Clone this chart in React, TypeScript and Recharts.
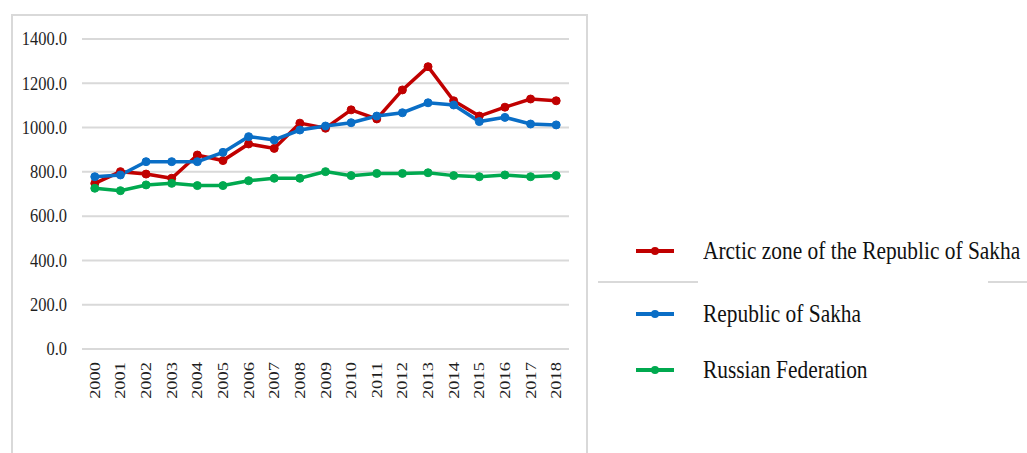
import React from "react";
import { LineChart, Line, XAxis, YAxis, CartesianGrid, Legend } from "recharts";

// Years on the horizontal axis
const years = [
  "2000", "2001", "2002", "2003", "2004", "2005", "2006", "2007", "2008", "2009",
  "2010", "2011", "2012", "2013", "2014", "2015", "2016", "2017", "2018",
];

// Series values
const arcticZone = [748, 801, 790, 771, 876, 851, 926, 906, 1020, 997, 1080, 1039, 1170, 1275, 1121, 1052, 1092, 1129, 1121];
const republicSakha = [778, 786, 846, 846, 846, 888, 959, 944, 989, 1007, 1022, 1052, 1067, 1112, 1102, 1027, 1046, 1016, 1012];
const russianFederation = [726, 715, 741, 748, 738, 738, 760, 771, 771, 801, 783, 793, 793, 796, 783, 778, 786, 778, 783];

// Y axis ticks
const yTicks = [0, 200, 400, 600, 800, 1000, 1200, 1400];

const seriesNames = [
  "Arctic zone of the Republic of Sakha",
  "Republic of Sakha",
  "Russian Federation",
];

const data = years.map((year, i) => ({
  year,
  arctic: arcticZone[i],
  sakha: republicSakha[i],
  russia: russianFederation[i],
}));

const FONT = "'Liberation Serif', 'Times New Roman', serif";
const GRID = "#d9d9d9";

const YTick = (props: any) => {
  const { y, payload } = props;
  return (
    <text
      transform={`translate(67, ${y}) scale(1, 1.12)`}
      x={0}
      y={0}
      textAnchor="end"
      dominantBaseline="central"
      fontFamily={FONT}
      fontSize={16.5}
      fill="#1f1f1f"
    >
      {Number(payload.value).toFixed(1)}
    </text>
  );
};

const XTick = (props: any) => {
  const { x, payload } = props;
  return (
    <text
      transform={`translate(${x + 5}, 362) rotate(-90) scale(1.23, 1)`}
      x={0}
      y={0}
      textAnchor="end"
      fontFamily={FONT}
      fontSize={15}
      fill="#1f1f1f"
    >
      {payload.value}
    </text>
  );
};

// Legend rows: vertical centre of each entry
const legendRows = [251, 314, 370];
const LEGEND_TOP = 220;

const renderLegend = (props: any) => {
  const { payload } = props;
  return (
    <div style={{ position: "relative", width: 440, height: 200 }}>
      {payload.map((entry: any, i: number) => (
        <div
          key={entry.value}
          style={{
            position: "absolute",
            left: 0,
            top: legendRows[i] - LEGEND_TOP - 20,
            height: 40,
            display: "flex",
            alignItems: "center",
            whiteSpace: "nowrap",
          }}
        >
          <svg width={92} height={40} style={{ display: "block" }}>
            <line x1={16} y1={20} x2={54} y2={20} stroke={entry.color} strokeWidth={4} />
            <circle cx={35} cy={20} r={4} fill={entry.color} />
          </svg>
          <span
            style={{
              fontFamily: FONT,
              fontSize: 21.4,
              color: "#111",
              display: "inline-block",
              transform: "scaleY(1.2)",
              marginLeft: -9,
            }}
          >
            {entry.value}
          </span>
        </div>
      ))}
    </div>
  );
};

export default function App() {
  return (
    <div
      style={{
        position: "absolute",
        left: 0,
        top: 0,
        width: 1027,
        height: 453,
        overflow: "hidden",
        background: "#fff",
      }}
    >
      {/* chart frame */}
      <div
        style={{
          position: "absolute",
          left: 11,
          top: 14,
          width: 577,
          height: 480,
          border: `2px solid ${GRID}`,
          boxSizing: "border-box",
        }}
      />
      {/* legend box edge segments */}
      <div style={{ position: "absolute", left: 598, top: 281, width: 100, height: 2, background: GRID }} />
      <div style={{ position: "absolute", left: 988, top: 281, width: 39, height: 2, background: GRID }} />
      <div style={{ position: "absolute", left: 0, top: 0 }}>
        <LineChart
          width={1027}
          height={453}
          data={data}
          margin={{ top: 39, right: 458, bottom: 0, left: 12 }}
        >
          <CartesianGrid vertical={false} stroke={GRID} strokeWidth={2} />
          <XAxis
            dataKey="year"
            height={104}
            axisLine={false}
            tickLine={false}
            interval={0}
            padding={{ left: 12.8, right: 12.8 }}
            tick={<XTick />}
          />
          <YAxis
            width={70}
            domain={[0, 1400]}
            ticks={yTicks}
            axisLine={false}
            tickLine={false}
            tick={<YTick />}
          />
          <Legend
            layout="horizontal"
            align="center"
            verticalAlign="middle"
            content={renderLegend}
            wrapperStyle={{ position: "absolute", left: 620, top: LEGEND_TOP, width: 440 }}
          />
          <Line
            name={seriesNames[0]}
            dataKey="arctic"
            stroke="#C00000"
            strokeWidth={3.5}
            dot={{ r: 4, fill: "#C00000", stroke: "#C00000", strokeWidth: 1 }}
            isAnimationActive={false}
          />
          <Line
            name={seriesNames[1]}
            dataKey="sakha"
            stroke="#0A6EC6"
            strokeWidth={3.5}
            dot={{ r: 4, fill: "#0A6EC6", stroke: "#0A6EC6", strokeWidth: 1 }}
            isAnimationActive={false}
          />
          <Line
            name={seriesNames[2]}
            dataKey="russia"
            stroke="#00A94F"
            strokeWidth={3.5}
            dot={{ r: 4, fill: "#00A94F", stroke: "#00A94F", strokeWidth: 1 }}
            isAnimationActive={false}
          />
        </LineChart>
      </div>
    </div>
  );
}
